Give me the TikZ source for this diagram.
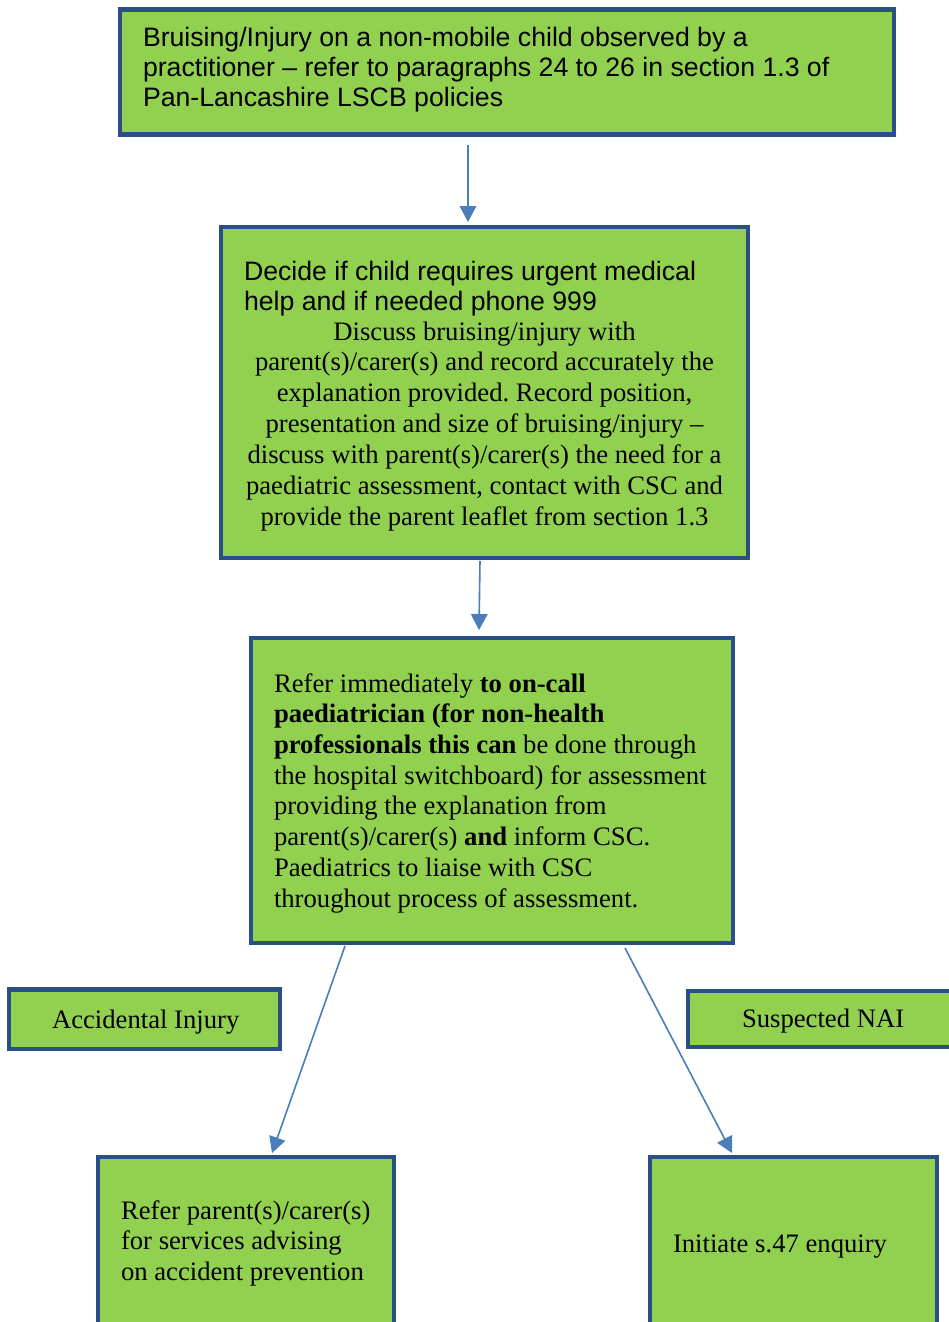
\documentclass[tikz,border=0pt]{standalone}
\usepackage{fontspec}
\setmainfont{Liberation Serif}
\newfontfamily\arialfont{Liberation Sans}
\usetikzlibrary{calc,arrows.meta}
\definecolor{boxgreen}{HTML}{92D050}
\definecolor{boxblue}{HTML}{2A4E86}
\definecolor{arrowblue}{HTML}{4A7EBB}
\frenchspacing
\tikzset{
  box/.style={draw=boxblue, fill=boxgreen, line width=3.2pt, outer sep=0pt, inner sep=0pt},
  ln/.style={inner sep=0pt, outer sep=0pt, anchor=base west, font=\fontsize{20}{23}\selectfont},
  lnsans/.style={ln, font=\arialfont\fontsize{20}{23}\selectfont},
  lnc/.style={ln, anchor=base},
  arr/.style={draw=arrowblue, line width=1.2pt, -{Triangle[width=12.5pt,length=12pt]}},
}
\begin{document}
\begin{tikzpicture}[x=0.75pt, y=-0.75pt]
\useasboundingbox[fill=white] (0,0) rectangle (949,1322);
% boxes
\node[box, minimum width=774*0.75pt, minimum height=125*0.75pt] (b1) at (507,72) {};
\node[box, minimum width=527*0.75pt, minimum height=331*0.75pt] (b2) at (484.5,392.5) {};
\node[box, minimum width=482*0.75pt, minimum height=305*0.75pt] (b3) at (492,790.5) {};
\node[box, minimum width=271*0.75pt, minimum height=59.5*0.75pt] (bai) at (144.5,1019.25) {};
\node[box, minimum width=270*0.75pt, minimum height=56*0.75pt] (bnai) at (823,1019.25) {};
\node[box, minimum width=296*0.75pt, minimum height=186*0.75pt] (bl) at (246,1250) {};
\node[box, minimum width=287*0.75pt, minimum height=186*0.75pt] (br) at (793.5,1250) {};
% box 1 text
\node[lnsans] (t1a) at (143,46.7) {Bruising/Injury on a non-mobile child observed by a};
\node[lnsans] (t1b) at (143,76.7) {practitioner – refer to paragraphs 24 to 26 in section 1.3 of};
\node[lnsans] (t1c) at (143,106.5) {Pan-Lancashire LSCB policies};
% box 2 text
\node[lnsans] (t2a) at (244,280) {Decide if child requires urgent medical};
\node[lnsans] (t2b) at (244,310) {help and if needed phone 999};
\node[lnc] (t2c) at (484.5,340) {Discuss bruising/injury with};
\node[lnc] (t2d) at (484.5,370.8) {parent(s)/carer(s) and record accurately the};
\node[lnc] (t2e) at (484.5,401.5) {explanation provided. Record position,};
\node[lnc] (t2f) at (484.5,432.3) {presentation and size of bruising/injury –};
\node[lnc] (t2g) at (484.5,463) {discuss with parent(s)/carer(s) the need for a};
\node[lnc] (t2h) at (484.5,494) {paediatric assessment, contact with CSC and};
\node[lnc] (t2i) at (484.5,525) {provide the parent leaflet from section 1.3};
% box 3 text
\node[ln] (t3a) at (274,692) {Refer immediately \textbf{to on-call}};
\node[ln] (t3b) at (274,722.7) {\textbf{paediatrician (for non-health}};
\node[ln] (t3c) at (274,753.4) {\textbf{professionals this can} be done through};
\node[ln] (t3d) at (274,784) {the hospital switchboard) for assessment};
\node[ln] (t3e) at (274,814.8) {providing the explanation from};
\node[ln] (t3f) at (274,845.5) {parent(s)/carer(s) \textbf{and} inform CSC.};
\node[ln] (t3g) at (274,876.2) {Paediatrics to liaise with CSC};
\node[ln] (t3h) at (274,907) {throughout process of assessment.};
% side labels
\node[ln] (tai) at (52,1028) {Accidental Injury};
\node[ln] (tnai) at (742,1027) {Suspected NAI};
% bottom boxes text
\node[ln] (tla) at (121,1219) {Refer parent(s)/carer(s)};
\node[ln] (tlb) at (121,1249.5) {for services advising};
\node[ln] (tlc) at (121,1280) {on accident prevention};
\node[ln] (tr) at (673,1252) {Initiate s.47 enquiry};
% arrows
\draw[arr] ($(b1.south)+(-39,10.5)$) -- ($(b2.north)+(-16.5,-5)$);
\draw[arr] ($(b2.south)+(-4.5,3)$) -- ($(b3.north)+(-13,-8)$);
\draw[arr] ($(b3.south)+(-147,3)$) -- ($(bl.north)+(26,-4)$);
\draw[arr] ($(b3.south)+(133,5)$) -- ($(br.north)+(-61.5,-4)$);
\end{tikzpicture}
\end{document}
